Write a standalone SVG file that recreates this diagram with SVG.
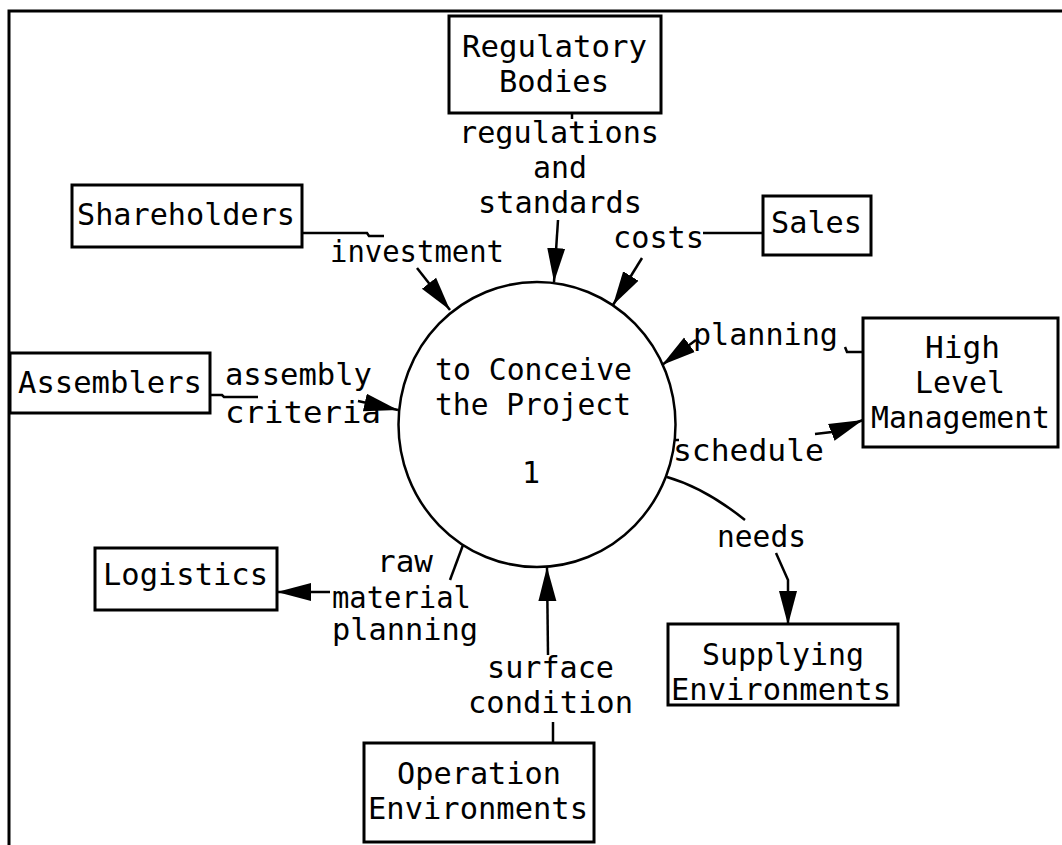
<svg xmlns="http://www.w3.org/2000/svg" width="1062" height="845" viewBox="0 0 1062 845">
<style>
  .box{fill:#fff;stroke:#000;stroke-width:3}
  .t{font-family:"DejaVu Sans Mono","Liberation Mono",monospace;font-size:30px;fill:#000}
  .c{fill:none;stroke:#000;stroke-width:2.5}
  .a{marker-end:url(#arr)}
</style>
<defs>
  <marker id="arr" markerUnits="userSpaceOnUse" markerWidth="34" markerHeight="20" refX="34" refY="10" orient="auto">
    <path d="M0,1 L34,10 L0,19 z" fill="#000"/>
  </marker>
</defs>
<rect width="1062" height="845" fill="#fff"/>
<path d="M9,845 L9,11 L1062,11" fill="none" stroke="#000" stroke-width="3"/>

<g id="connectors">
  <path class="c" d="M572,113 L572,119"/>
  <path class="c a" d="M558,220 L554,282"/>
  <path class="c" d="M302,233 L367,233 L369,236 L384,236"/>
  <path class="c a" d="M417,268 L450,310"/>
  <path class="c" d="M703,233 L763,233"/>
  <path class="c a" d="M642,258 L613,305"/>
  <path class="c" d="M863,352 L847,352 L845,347"/>
  <path class="c a" d="M696,340 L662,365"/>
  <path class="c" d="M674,440 L679,440"/>
  <path class="c a" d="M815,434 L832,432 L863,420"/>
  <path class="c" d="M667,477 Q705,488 745,520"/>
  <path class="c a" d="M776,553 L788,580 L788,625"/>
  <path class="c" d="M463,545 L450,580"/>
  <path class="c a" d="M330,592 L277,592"/>
  <path class="c" d="M210,395 L222,395 L224,397 L258,397"/>
  <path class="c a" d="M358,401 L398,410"/>
  <path class="c a" d="M548,655 L547,567"/>
  <path class="c" d="M553,722 L553,743"/>
</g>

<g id="process">
  <ellipse cx="537" cy="424.5" rx="138.5" ry="142.5" fill="none" stroke="#000" stroke-width="2.5"/>
  <text class="t" x="435" y="380" textLength="197" lengthAdjust="spacingAndGlyphs">to Conceive</text>
  <text class="t" x="435" y="415" textLength="196" lengthAdjust="spacingAndGlyphs">the Project</text>
  <text class="t" x="531" y="483" text-anchor="middle">1</text>
</g>

<g id="regulatory">
  <rect class="box" x="449" y="16" width="212" height="97"/>
  <text class="t" x="462" y="57" textLength="185" lengthAdjust="spacingAndGlyphs">Regulatory</text>
  <text class="t" x="499" y="92" textLength="110" lengthAdjust="spacingAndGlyphs">Bodies</text>
</g>
<g id="shareholders">
  <rect class="box" x="72" y="185" width="230" height="62"/>
  <text class="t" x="77" y="225" textLength="218" lengthAdjust="spacingAndGlyphs">Shareholders</text>
</g>
<g id="sales">
  <rect class="box" x="763" y="196" width="108" height="59"/>
  <text class="t" x="771" y="233" textLength="91" lengthAdjust="spacingAndGlyphs">Sales</text>
</g>
<g id="management">
  <rect class="box" x="863" y="318" width="195" height="129"/>
  <text class="t" x="925" y="358" textLength="75" lengthAdjust="spacingAndGlyphs">High</text>
  <text class="t" x="915" y="393" textLength="90" lengthAdjust="spacingAndGlyphs">Level</text>
  <text class="t" x="871" y="428" textLength="179" lengthAdjust="spacingAndGlyphs">Management</text>
</g>
<g id="assemblers">
  <rect class="box" x="10" y="353" width="200" height="60"/>
  <text class="t" x="18" y="393" textLength="184" lengthAdjust="spacingAndGlyphs">Assemblers</text>
</g>
<g id="logistics">
  <rect class="box" x="95" y="548" width="182" height="62"/>
  <text class="t" x="103" y="585" textLength="165" lengthAdjust="spacingAndGlyphs">Logistics</text>
</g>
<g id="supplying">
  <rect class="box" x="668" y="624" width="230" height="81"/>
  <text class="t" x="702" y="665" textLength="162" lengthAdjust="spacingAndGlyphs">Supplying</text>
  <text class="t" x="671" y="700" textLength="220" lengthAdjust="spacingAndGlyphs">Environments</text>
</g>
<g id="operation">
  <rect class="box" x="364" y="743" width="230" height="99"/>
  <text class="t" x="397" y="784" textLength="164" lengthAdjust="spacingAndGlyphs">Operation</text>
  <text class="t" x="368" y="819" textLength="220" lengthAdjust="spacingAndGlyphs">Environments</text>
</g>

<g id="labels">
  <text class="t" x="459" y="143" textLength="200" lengthAdjust="spacingAndGlyphs">regulations</text>
  <text class="t" x="533" y="178" textLength="54" lengthAdjust="spacingAndGlyphs">and</text>
  <text class="t" x="478" y="213" textLength="164" lengthAdjust="spacingAndGlyphs">standards</text>
  <text class="t" x="330" y="262" textLength="174" lengthAdjust="spacingAndGlyphs">investment</text>
  <text class="t" x="613" y="248" textLength="91" lengthAdjust="spacingAndGlyphs">costs</text>
  <text class="t" x="693" y="345" textLength="145" lengthAdjust="spacingAndGlyphs">planning</text>
  <text class="t" x="225" y="385" textLength="147" lengthAdjust="spacingAndGlyphs">assembly</text>
  <text class="t" x="225" y="423" textLength="156" lengthAdjust="spacingAndGlyphs">criteria</text>
  <text class="t" x="673" y="461" textLength="151" lengthAdjust="spacingAndGlyphs">schedule</text>
  <text class="t" x="717" y="547" textLength="89" lengthAdjust="spacingAndGlyphs">needs</text>
  <text class="t" x="377" y="572" textLength="56" lengthAdjust="spacingAndGlyphs">raw</text>
  <text class="t" x="332" y="608" textLength="139" lengthAdjust="spacingAndGlyphs">material</text>
  <text class="t" x="332" y="640" textLength="146" lengthAdjust="spacingAndGlyphs">planning</text>
  <text class="t" x="487" y="678" textLength="127" lengthAdjust="spacingAndGlyphs">surface</text>
  <text class="t" x="468" y="713" textLength="165" lengthAdjust="spacingAndGlyphs">condition</text>
</g>
</svg>
